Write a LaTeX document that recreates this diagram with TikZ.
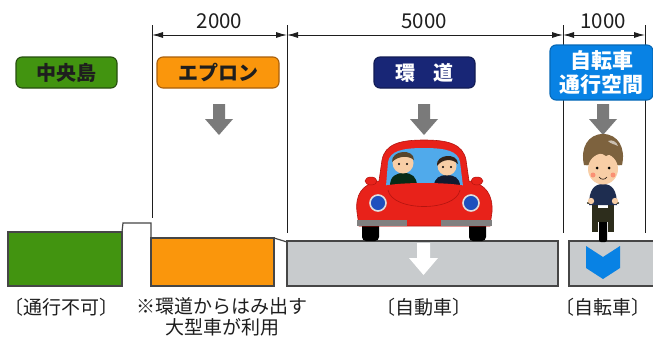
\documentclass[tikz,border=0pt]{standalone}
\usepackage{fontspec}
\setmainfont{Noto Sans CJK JP}
\usetikzlibrary{arrows.meta}

\definecolor{islandgreen}{RGB}{66,148,16}
\definecolor{islandedge}{RGB}{38,78,14}
\definecolor{apronorange}{RGB}{250,150,12}
\definecolor{apronedge}{RGB}{170,95,10}
\definecolor{ringnavy}{RGB}{24,38,118}
\definecolor{bikeblue}{RGB}{8,130,228}
\definecolor{roadgray}{RGB}{200,203,205}
\definecolor{edgegray}{RGB}{70,70,70}
\definecolor{arrowgray}{RGB}{122,122,122}
\definecolor{textdark}{RGB}{30,30,30}
\definecolor{carred}{RGB}{232,34,26}
\definecolor{carredd}{RGB}{180,20,15}
\definecolor{glass}{RGB}{80,170,235}
\definecolor{lampblue}{RGB}{30,80,190}
\definecolor{skin}{RGB}{248,206,166}
\definecolor{hairbrown}{RGB}{125,98,62}
\definecolor{hairdark}{RGB}{50,35,25}
\definecolor{shirtnavy}{RGB}{30,45,80}
\definecolor{bikedark}{RGB}{45,45,28}

\tikzset{
  tag/.style={draw, rounded corners=6pt, line width=1.1pt, inner sep=0pt,
    minimum height=31pt, align=center,
    font=\fontsize{20}{23}\selectfont\bfseries},
  dimtext/.style={font=\fontsize{20.5}{22}\selectfont, text=textdark},
  captext/.style={font=\fontsize{19}{21}\selectfont, text=textdark, align=center},
  extline/.style={draw=textdark, line width=0.9pt},
  dimline/.style={draw=textdark, line width=0.9pt,
    arrows={Latex[length=11pt,width=6pt]-Latex[length=11pt,width=6pt]}},
  ground/.style={draw=edgegray, line width=1.2pt},
  downarrow/.pic={\fill[arrowgray] (-6,0) -- (6,0) -- (6,15) -- (14,15)
    -- (0,31) -- (-14,15) -- (-6,15) -- cycle;},
}

\begin{document}
\begin{tikzpicture}[x=1pt,y=-1pt]
\useasboundingbox[fill=white] (0,0) rectangle (653,341);

% extension lines of the dimension chain
\coordinate (e1t) at (152,25);  \coordinate (e1b) at (152,218);
\coordinate (e2t) at (287,25);  \coordinate (e2b) at (287,233);
\coordinate (e3t) at (563,25);  \coordinate (e3b) at (563,233);
\coordinate (e4t) at (645,25);  \coordinate (e4b) at (645,233);
\foreach \e in {e1,e2,e3,e4} \draw[extline] (\e t) -- (\e b);

% dimension lines
\coordinate (d1) at (152,35); \coordinate (d2) at (287,35);
\coordinate (d3) at (563,35); \coordinate (d4) at (645,35);
\draw[dimline] (d1) -- (d2);
\draw[dimline] (d2) -- (d3);
\draw[dimline] (d3) -- (d4);
\node[dimtext] (w1) at (219.5,21) {2000};
\node[dimtext] (w2) at (424,21) {5000};
\node[dimtext] (w3) at (603,21) {1000};

% zone tags
\node[tag, fill=islandgreen, draw=islandedge, minimum width=101pt, text=textdark]
  (island) at (66.5,72.5) {中央島};
\node[tag, fill=apronorange, draw=apronedge, minimum width=122pt, text=textdark]
  (apron) at (218,72.5) {エプロン};
\node[tag, fill=ringnavy, draw=ringnavy!70!black, minimum width=101pt, text=white]
  (ring) at (424.5,72.5) {環\hspace{0.9em}道};
\node[tag, fill=bikeblue, draw=bikeblue!80!black, minimum width=103pt,
  minimum height=55pt, text=white, font=\fontsize{21}{24}\selectfont\bfseries]
  (cycle) at (601.5,72.5) {自転車\\通行空間};

% gray down arrows under the tags
\pic at (219,104) {downarrow};
\pic at (424,104) {downarrow};
\pic at (603,104) {downarrow};

% cross-section of the carriageway
\fill[islandgreen] (8,232) rectangle (122,286);
\draw[ground] (8,232) rectangle (122,286);
\draw[ground] (122,232) -- (123,223) -- (151,223) -- (151,238);
\fill[apronorange] (151,238) rectangle (274,286);
\draw[ground] (151,238) rectangle (274,286);
\draw[ground] (274,238) -- (287,242);
\fill[roadgray] (287,241) rectangle (558,286);
\draw[ground] (287,241) rectangle (558,286);
\fill[roadgray] (569,241) rectangle (656,286);
\draw[ground] (656,241) -- (569,241) -- (569,286) -- (656,286);

% white arrow on the road
\fill[white] (417,243) -- (430,243) -- (430,258) -- (438,258) -- (423.5,275)
  -- (409,258) -- (417,258) -- cycle;
% blue chevron on the cycle lane
\fill[bikeblue] (586,246) -- (603,257) -- (620,246) -- (620,268) -- (603,279)
  -- (586,268) -- cycle;

% ---- car ----
\fill[black, rounded corners=4pt] (362,218) rectangle (379,241);
\fill[black, rounded corners=4pt] (469,218) rectangle (486,241);
\fill[carred, draw=carredd, line width=0.6pt]
  (357,212) .. controls (355,195) and (362,184) .. (379,181)
  -- (382,160) .. controls (385,144) and (400,140) .. (424,140)
  .. controls (448,140) and (463,144) .. (466,160)
  -- (469,181) .. controls (486,184) and (493,195) .. (492,212)
  -- (490,226) -- (359,226) -- cycle;
\fill[glass] (386,186) -- (388,162) .. controls (390,151) and (402,148) .. (424,148)
  .. controls (446,148) and (458,151) .. (460,162) -- (463,186) -- cycle;
% driver
\fill[shirtnavy!70!green!40!black] (390,186) .. controls (390,176) and (396,173) .. (404,173)
  .. controls (412,173) and (417,177) .. (417,186) -- cycle;
\fill[skin] (403,163) circle (10.5);
\fill[hairbrown!70!black] (392,162) .. controls (391,150) and (414,148) .. (414,160)
  .. controls (408,155) and (398,156) .. (392,162) -- cycle;
\fill[black] (399,164) circle (1.2) (407,164) circle (1.2);
% passenger
\fill[shirtnavy!60!black] (434,186) .. controls (434,178) and (440,175) .. (447,175)
  .. controls (454,175) and (460,178) .. (460,186) -- cycle;
\fill[skin] (447,166) circle (9.5);
\fill[hairdark] (437,166) .. controls (435,154) and (458,152) .. (458,164)
  .. controls (452,158) and (442,159) .. (437,166) -- cycle;
\fill[black] (443,167) circle (1.1) (451,167) circle (1.1);
% hood
\fill[carred] (383,186) .. controls (400,182) and (448,182) .. (466,186) -- (466,195) -- (383,195) -- cycle;
\draw[carredd, line width=0.6pt] (388,190) .. controls (392,212) and (456,212) .. (460,190);
% mirrors
\fill[carred, draw=carredd, line width=0.5pt] (371,181) ellipse (6 and 4);
\fill[carred, draw=carredd, line width=0.5pt] (477,181) ellipse (6 and 4);
% headlights
\fill[lampblue, draw=white!75!gray, line width=1.6pt] (378,203) circle (8);
\fill[lampblue, draw=white!75!gray, line width=1.6pt] (471,203) circle (8);
% bumpers
\fill[gray] (357,220) rectangle (407,226);
\fill[gray] (441,220) rectangle (492,226);

% ---- cyclist ----
\fill[bikedark] (592,204) rectangle (598,232);
\fill[bikedark] (608,204) rectangle (614,232);
\fill[black, rounded corners=2pt] (599,208) rectangle (607,242);
\fill[bikedark] (596,208) rectangle (610,222);
\draw[bikedark, line width=2.5pt, line cap=round] (588,203) -- (618,203);
\fill[shirtnavy] (589,205) .. controls (589,190) and (594,184) .. (603,184)
  .. controls (612,184) and (617,190) .. (617,205) -- cycle;
\fill[skin] (591,201) circle (3.2) (615,201) circle (3.2);
% rounded mop of hair
\fill[hairbrown] (584,165) .. controls (580,148) and (588,134) .. (603,134)
  .. controls (618,134) and (626,148) .. (622,165) -- cycle;
\fill[skin] (603,169) ellipse (15 and 15.5);
\fill[hairbrown] (587,166) .. controls (587,153) and (598,150) .. (606,156)
  .. controls (612,152) and (619,156) .. (619,166) -- (621,150) -- (585,150) -- cycle;
\fill[white!60!hairbrown] (608,141) .. controls (612,139) and (617,142) .. (618,146)
  .. controls (614,144) and (611,144) .. (608,141) -- cycle;
\fill[black] (597,168) circle (1.5) (609,168) circle (1.5);
\fill[red!30!skin] (593,175) circle (2.5) (613,175) circle (2.5);
\draw[hairdark, line width=0.7pt] (599,177) .. controls (601,180) and (605,180) .. (607,177);

% captions
\node[captext] (c1) at (62,307) {〔通行不可〕};
\node[captext] (c2) at (222,317) {※環道からはみ出す\\大型車が利用};
\node[captext] (c3) at (424,307) {〔自動車〕};
\node[captext] (c4) at (603,307) {〔自転車〕};
\end{tikzpicture}
\end{document}
